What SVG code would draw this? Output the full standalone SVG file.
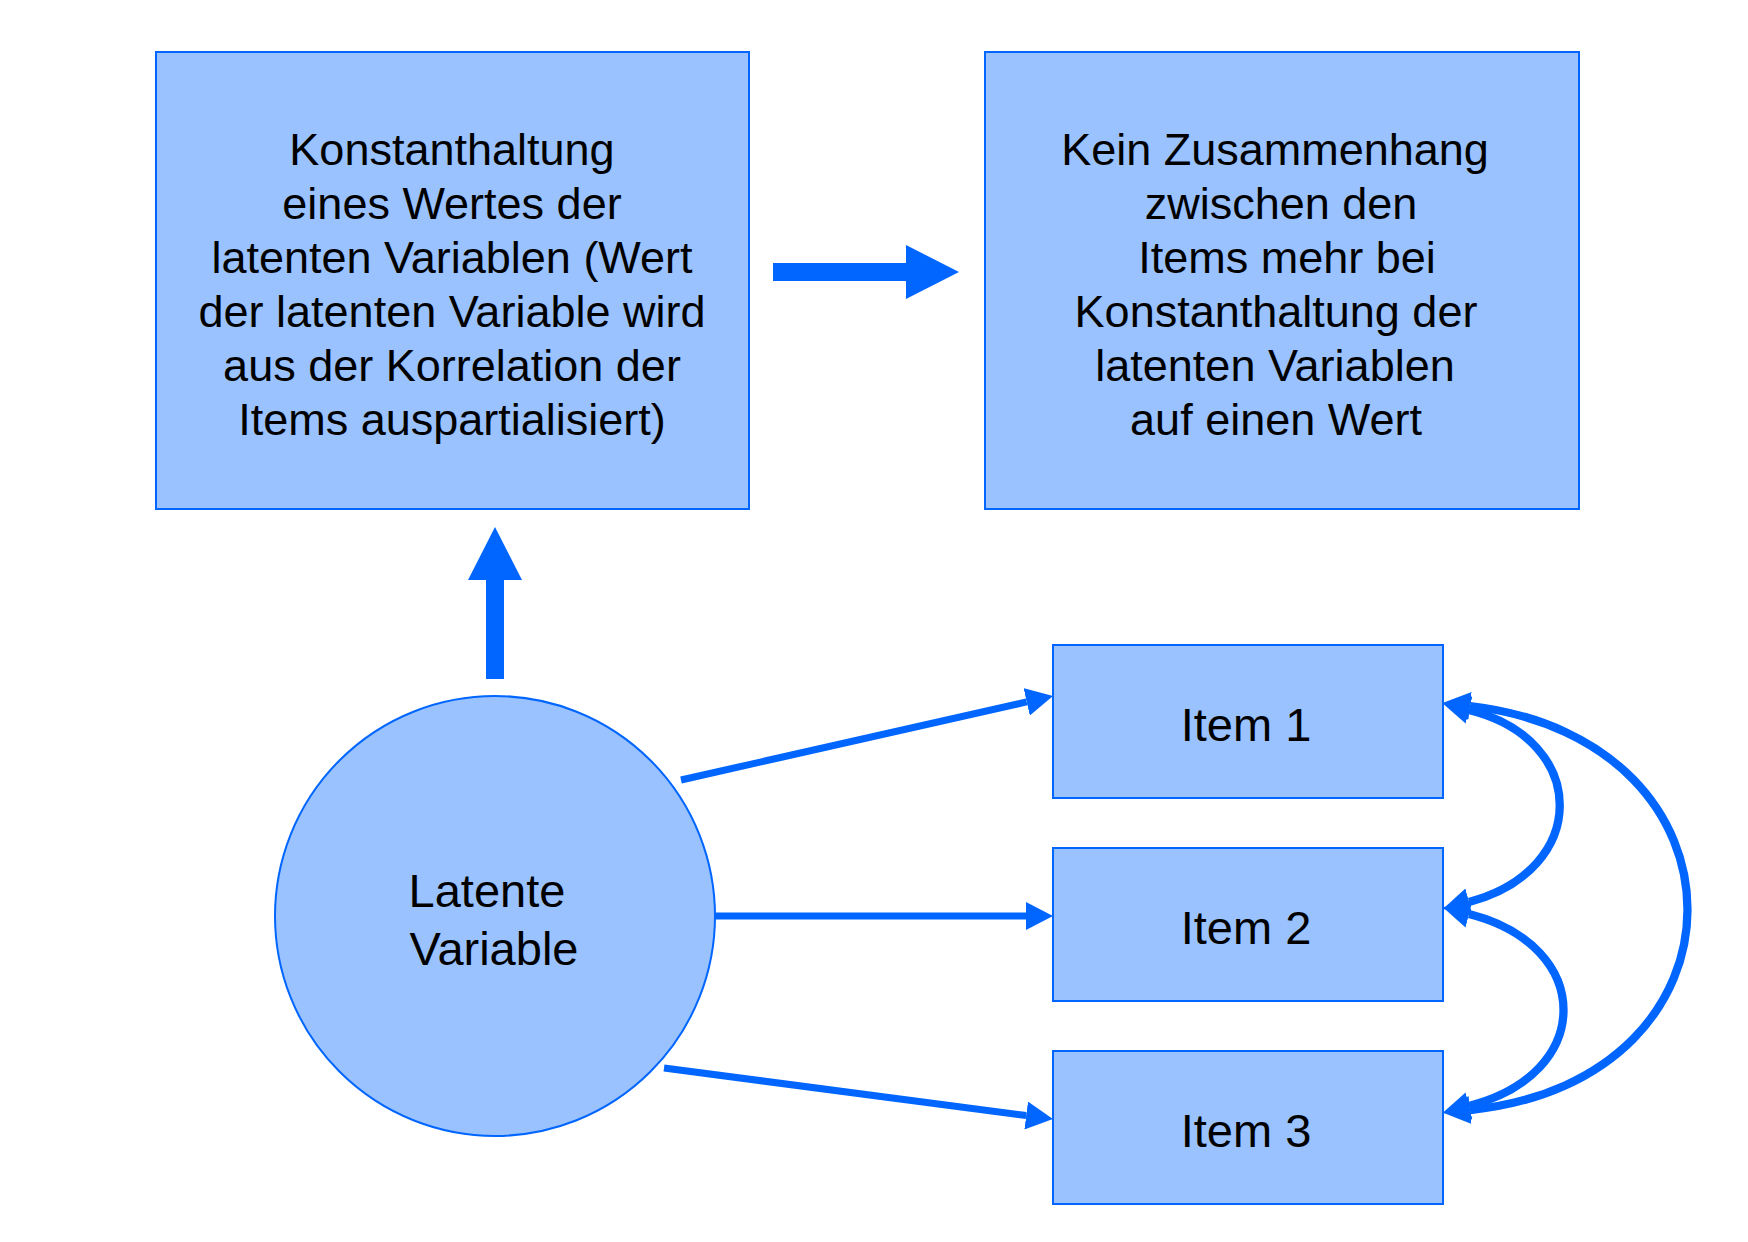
<svg xmlns="http://www.w3.org/2000/svg" width="1748" height="1242" viewBox="0 0 1748 1242">
<defs>
<style>
.box{fill:#99C2FF;stroke:#0066FF;stroke-width:2}
.t{font-family:"Liberation Sans",Arial,sans-serif;fill:#000;text-anchor:middle}
.t45{font-size:45px}
.t47{font-size:47px}
.con{fill:none;stroke:#0066FF;stroke-width:7}
.cur{fill:none;stroke:#0066FF;stroke-width:8.3}
.blk{fill:#0066FF}
</style>
<marker id="ah" viewBox="0 0 27 28" refX="0" refY="14" markerWidth="27" markerHeight="28" markerUnits="userSpaceOnUse" orient="auto-start-reverse">
<path d="M0 0 L27 14 L0 28 Z" fill="#0066FF"/>
</marker>
</defs>
<rect width="1748" height="1242" fill="#FFFFFF"/>
<g id="node-konstanthaltung">
<rect class="box" x="156" y="52" width="593" height="457"/>
<text class="t t45" x="452" y="165">Konstanthaltung</text>
<text class="t t45" x="452" y="219">eines Wertes der</text>
<text class="t t45" x="452" y="273">latenten Variablen (Wert</text>
<text class="t t45" x="452" y="327">der latenten Variable wird</text>
<text class="t t45" x="452" y="381">aus der Korrelation der</text>
<text class="t t45" x="452" y="435">Items auspartialisiert)</text>
</g>
<g id="node-kein-zusammenhang">
<rect class="box" x="985" y="52" width="594" height="457"/>
<text class="t t45" x="1275" y="165">Kein Zusammenhang</text>
<text class="t t45" x="1281" y="219">zwischen den</text>
<text class="t t45" x="1287" y="273">Items mehr bei</text>
<text class="t t45" x="1276" y="327">Konstanthaltung der</text>
<text class="t t45" x="1275" y="381">latenten Variablen</text>
<text class="t t45" x="1276" y="435">auf einen Wert</text>
</g>
<g id="node-latente-variable">
<circle class="box" cx="495" cy="916" r="220"/>
<text class="t t47" x="487" y="907">Latente</text>
<text class="t t47" x="494" y="965">Variable</text>
</g>
<g id="node-item1">
<rect class="box" x="1053" y="645" width="390" height="153"/>
<text class="t t47" x="1246" y="741">Item 1</text>
</g>
<g id="node-item2">
<rect class="box" x="1053" y="848" width="390" height="153"/>
<text class="t t47" x="1246" y="944">Item 2</text>
</g>
<g id="node-item3">
<rect class="box" x="1053" y="1051" width="390" height="153"/>
<text class="t t47" x="1246" y="1147">Item 3</text>
</g>
<g id="connectors">
<path class="blk" d="M773 263 L906 263 L906 245 L959 272 L906 299 L906 281 L773 281 Z"/>
<path class="blk" d="M486 679 L486 580 L468 580 L495 527 L522 580 L504 580 L504 679 Z"/>
<path class="con" d="M681 780 L1026.7 701.9" marker-end="url(#ah)"/>
<path class="con" d="M715 916 L1026 916" marker-end="url(#ah)"/>
<path class="con" d="M664 1068 L1026.2 1115.5" marker-end="url(#ah)"/>
<path class="cur" d="M1469 710 C1590 740 1590 870 1469 902" marker-start="url(#ah)" marker-end="url(#ah)"/>
<path class="cur" d="M1469 914 C1595 946 1595 1074 1469 1106" marker-start="url(#ah)" marker-end="url(#ah)"/>
<path class="cur" d="M1470 706 C1760 740 1760 1080 1470 1110" marker-start="url(#ah)" marker-end="url(#ah)"/>
</g>
</svg>
